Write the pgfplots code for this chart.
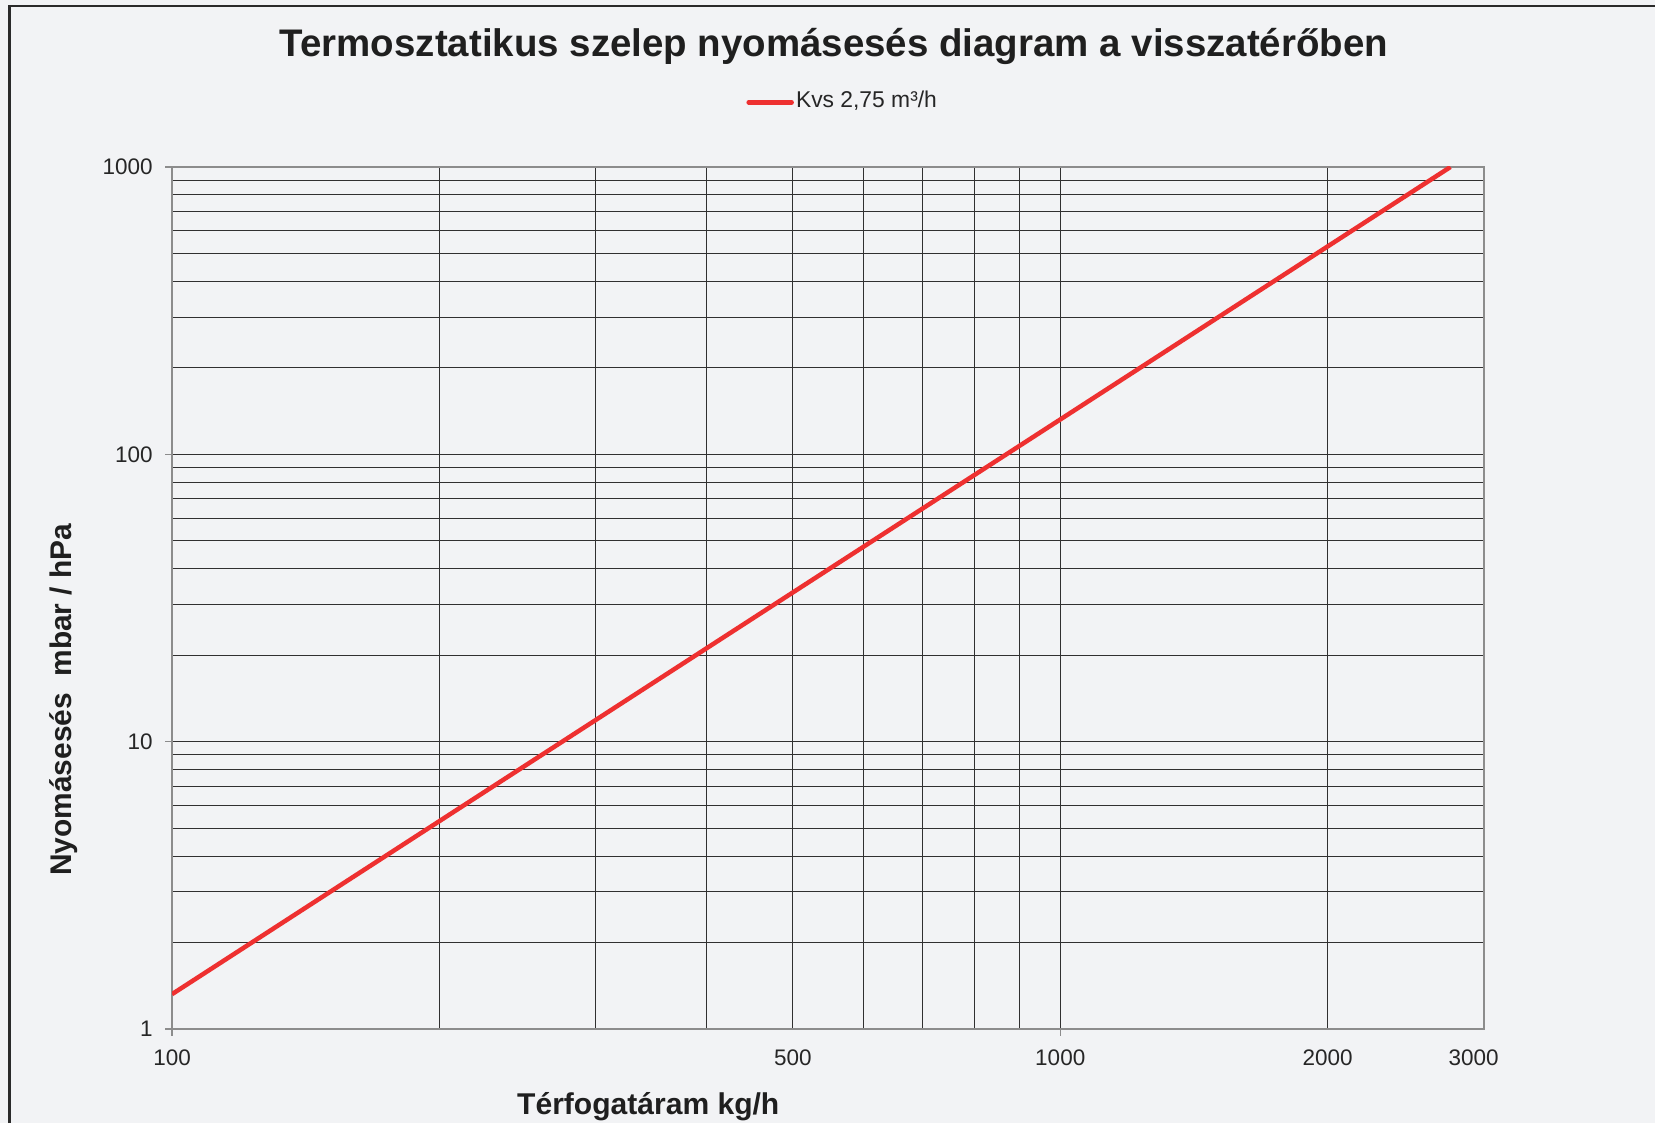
\documentclass[border=0pt]{standalone}
\usepackage{pgfplots}
\pgfplotsset{compat=1.18}
\usepackage{fontspec}
\setmainfont{Liberation Sans}
\setsansfont{Liberation Sans}
\definecolor{bg}{HTML}{F2F3F5}
\definecolor{frm}{HTML}{2A2A2A}
\definecolor{axgray}{HTML}{8C8C8C}
\definecolor{gridc}{HTML}{303030}
\definecolor{redl}{HTML}{EE3030}
\begin{document}
\begin{tikzpicture}
\fill[bg] (0,0) rectangle (165.5mm,112.3mm);
\useasboundingbox (0,0) rectangle (165.5mm,112.3mm);
\draw[frm,line width=0.28mm] (0.93mm,0) -- (0.93mm,111.7mm) -- (165.5mm,111.7mm);
\begin{axis}[
  at={(17.2mm,9.4mm)}, anchor=south west,
  scale only axis, width=131.2mm, height=86.2mm,
  xmode=log, ymode=log,
  xmin=100, xmax=3000, ymin=1, ymax=1000,
  axis line style={axgray, line width=0.2mm},
  axis background/.style={fill=bg},
  xtick={100,1000}, xticklabels={100,1000},
  minor xtick={200,300,400,500,600,700,800,900,2000},
  ytick={1,10,100,1000}, yticklabels={1,10,100,1000},
  minor ytick={2,3,4,5,6,7,8,9,20,30,40,50,60,70,80,90,200,300,400,500,600,700,800,900},
  extra x ticks={500,2000,2920},
  extra x tick labels={500,2000,3000},
  extra x tick style={grid=none, tick style={draw=none}},
  xtick pos=bottom, ytick pos=left,
  grid=both,
  major grid style={gridc, line width=0.09mm},
  minor grid style={gridc, line width=0.09mm},
  tick align=outside,
  major tick length=0.7mm, minor tick length=0pt,
  tick style={axgray, line width=0.12mm},
  ticklabel style={font=\fontsize{6.4pt}{7pt}\selectfont, text=black!85},
  xticklabel style={yshift=-0.1mm},
  yticklabel style={xshift=0mm},
  xlabel={\fontsize{8.55pt}{10pt}\selectfont\bfseries Térfogatáram kg/h},
  ylabel={\fontsize{8.5pt}{10pt}\selectfont\bfseries Nyomásesés\ \ mbar / hPa},
  xlabel style={at={(axis description cs:0.363,-0.0905)}, anchor=center, text=black!88},
  ylabel style={at={(axis description cs:-0.0824,0.382)}, anchor=center, rotate=0, text=black!88},
  legend style={at={(0.5112,1.075)}, anchor=center, draw=none, fill=none,
    font=\fontsize{6.5pt}{7pt}\selectfont, text=black!85,
    legend cell align=left, inner sep=0pt, nodes={inner xsep=0.6pt}},
  legend image code/.code={\draw[#1, line cap=round] (-0.2mm,0) -- (4.1mm,0);},
]
\addplot[redl, line width=0.45mm] coordinates {
  (100,1.322) (200,5.289) (500,33.06) (1000,132.2) (2000,528.9) (2750,1000)
};
\addlegendentry{Kvs 2,75 m³/h}
\end{axis}
\node[text=black!88, font=\fontsize{10.94pt}{13pt}\selectfont\bfseries] at (83.4mm,107.7mm) {Termosztatikus szelep nyomásesés diagram a visszatérőben};
\end{tikzpicture}
\end{document}
